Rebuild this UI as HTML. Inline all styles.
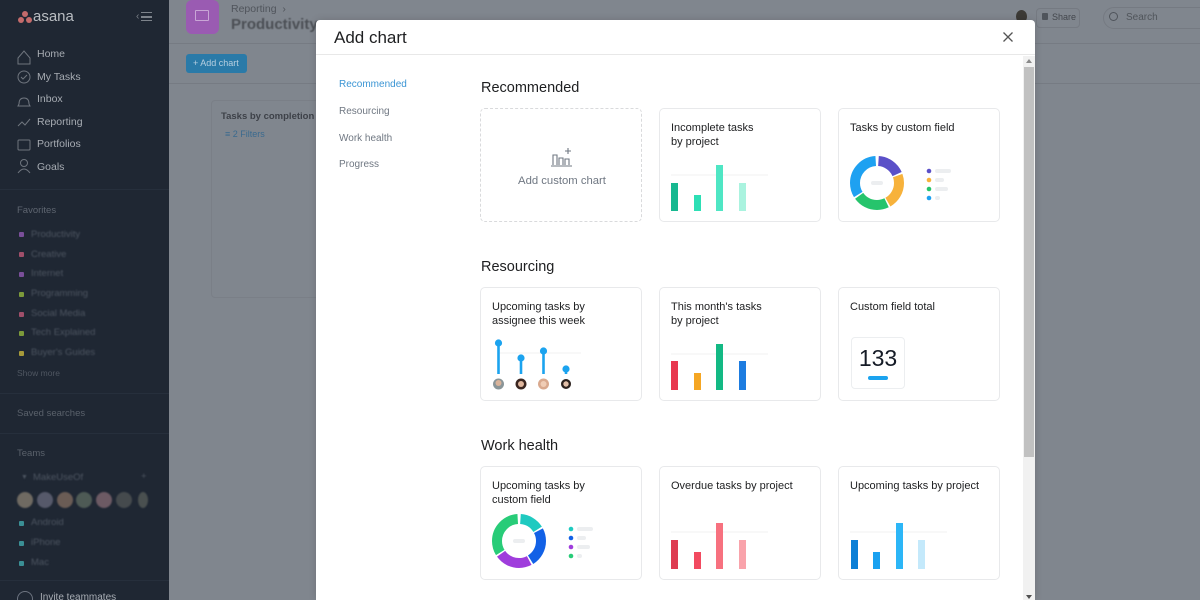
<!DOCTYPE html>
<html><head><meta charset="utf-8">
<style>
*{box-sizing:border-box;margin:0;padding:0}
html{width:1200px;height:600px;overflow:hidden}
body{width:1200px;height:600px;overflow:hidden;background:#80868e;font-family:"Liberation Sans",sans-serif;position:relative}
.a{position:absolute;white-space:nowrap}
#side{position:absolute;left:0;top:0;width:169px;height:600px;background:#1f2733}
.nav{color:#a7acb3;font-size:10.5px;line-height:12px}
.sep{position:absolute;left:0;width:169px;height:1px;background:#262f3c}
.fav{color:#4d5561;font-size:9.5px;filter:blur(0.8px);line-height:12px}
.dot{position:absolute;width:5px;height:5px;border-radius:1px}
.hl{position:absolute;left:169px;width:1031px;height:1px;background:#767b83}
#modal{position:absolute;left:316px;top:20px;width:719px;height:580px;background:#fff;border-radius:4px 4px 0 0;box-shadow:0 0 8px rgba(0,0,0,.15);overflow:hidden}
.mnav{font-size:10px;color:#6f7782;line-height:12px}
.sec{font-size:14.5px;color:#1e1f21;line-height:18px}
.card{position:absolute;width:162px;height:114px;border:1px solid #e8e9eb;border-radius:5px;background:#fff}
.ct{position:absolute;left:11px;top:12px;font-size:11px;line-height:14px;color:#1e1f21;white-space:nowrap}
.card svg{position:absolute;left:0;top:0}
</style></head><body>

<!-- Sidebar -->
<div id="side">
  <div class="a" style="left:18px;top:11px;width:14px;height:12px">
    <div style="position:absolute;left:4px;top:0;width:6px;height:6px;border-radius:50%;background:#c46b6b"></div>
    <div style="position:absolute;left:0;top:6px;width:6px;height:6px;border-radius:50%;background:#c46b6b"></div>
    <div style="position:absolute;left:8px;top:6px;width:6px;height:6px;border-radius:50%;background:#c46b6b"></div>
  </div>
  <div class="a" style="left:33px;top:8px;font-size:15px;color:#b9bdc2;line-height:18px">asana</div>
  <div class="a" style="left:136px;top:11px;font-size:10px;color:#7d838b;line-height:12px">‹</div>
  <div class="a" style="left:141px;top:12px;width:11px;height:9px;border-top:1.5px solid #7d838b;border-bottom:1.5px solid #7d838b"></div>
  <div class="a" style="left:141px;top:16px;width:11px;height:1.5px;background:#7d838b"></div>

  <svg class="a" style="left:14px;top:46px" width="20" height="130" fill="none" stroke="#6f757e" stroke-width="1">
    <path d="M4 12 L10 5 L16 12 L16 18 L4 18 Z"/>
    <circle cx="10" cy="31" r="6"/><path d="M7 31 l2 2 l4 -4"/>
    <path d="M5 58 q0 -6 5 -6 q5 0 5 6 l1 2 h-12 z"/>
    <path d="M4 80 l4 -4 l3 3 l5 -6"/>
    <rect x="4" y="94" width="12" height="10" rx="1"/>
    <circle cx="10" cy="117" r="3.5"/><path d="M4 127 q6 -8 12 0"/>
  </svg>
  <div class="a nav" style="left:37px;top:48px">Home</div>
  <div class="a nav" style="left:37px;top:71px">My Tasks</div>
  <div class="a nav" style="left:37px;top:93px">Inbox</div>
  <div class="a nav" style="left:37px;top:116px">Reporting</div>
  <div class="a nav" style="left:37px;top:138px">Portfolios</div>
  <div class="a nav" style="left:37px;top:161px">Goals</div>
  <div class="sep" style="top:189px"></div>
  <div class="a" style="left:17px;top:205px;font-size:9.5px;color:#5e6570">Favorites</div>

  <div class="dot" style="left:19px;top:232px;background:#7a4f9a"></div><div class="a fav" style="left:31px;top:229px">Productivity</div>
  <div class="dot" style="left:19px;top:252px;background:#a04f6a"></div><div class="a fav" style="left:31px;top:249px">Creative</div>
  <div class="dot" style="left:19px;top:272px;background:#7a4f9a"></div><div class="a fav" style="left:31px;top:268px">Internet</div>
  <div class="dot" style="left:19px;top:292px;background:#7c9a3a"></div><div class="a fav" style="left:31px;top:288px">Programming</div>
  <div class="dot" style="left:19px;top:312px;background:#a04f6a"></div><div class="a fav" style="left:31px;top:308px">Social Media</div>
  <div class="dot" style="left:19px;top:331px;background:#7c9a3a"></div><div class="a fav" style="left:31px;top:327px">Tech Explained</div>
  <div class="dot" style="left:19px;top:351px;background:#a69a3a"></div><div class="a fav" style="left:31px;top:347px">Buyer's Guides</div>
  <div class="a" style="left:17px;top:368px;font-size:8.5px;color:#4f5661">Show more</div>
  <div class="sep" style="top:393px"></div>
  <div class="a" style="left:17px;top:408px;font-size:9.5px;color:#5a616b">Saved searches</div>
  <div class="sep" style="top:433px"></div>
  <div class="a" style="left:17px;top:448px;font-size:9.5px;color:#5a616b">Teams</div>
  <div class="a fav" style="left:21px;top:472px;font-size:7px">▼</div>
  <div class="a fav" style="left:33px;top:472px">MakeUseOf</div>
  <div class="a fav" style="left:141px;top:471px">+</div>
  <div class="a" style="left:17px;top:492px;width:135px;height:16px;filter:blur(0.7px)">
    <div style="position:absolute;left:0;top:0;width:16px;height:16px;border-radius:50%;background:#6f6a62"></div>
    <div style="position:absolute;left:20px;top:0;width:16px;height:16px;border-radius:50%;background:#56596a"></div>
    <div style="position:absolute;left:40px;top:0;width:16px;height:16px;border-radius:50%;background:#6a5c55"></div>
    <div style="position:absolute;left:59px;top:0;width:16px;height:16px;border-radius:50%;background:#4e5a55"></div>
    <div style="position:absolute;left:79px;top:0;width:16px;height:16px;border-radius:50%;background:#6c5a64"></div>
    <div style="position:absolute;left:99px;top:0;width:16px;height:16px;border-radius:50%;background:#454a4d"></div>
    <div style="position:absolute;left:121px;top:0;width:10px;height:16px;border-radius:50%;background:#4a5050"></div>
  </div>
  <div class="dot" style="left:19px;top:521px;background:#3a8f95"></div><div class="a fav" style="left:31px;top:517px">Android</div>
  <div class="dot" style="left:19px;top:541px;background:#3a8f95"></div><div class="a fav" style="left:31px;top:537px">iPhone</div>
  <div class="dot" style="left:19px;top:561px;background:#3a8f95"></div><div class="a fav" style="left:31px;top:557px">Mac</div>
  <div class="sep" style="top:580px"></div>
  <div class="a" style="left:17px;top:591px;width:16px;height:16px;border-radius:50%;border:1.5px solid #6d7480"></div>
  <div class="a" style="left:40px;top:592px;font-size:10px;color:#a7acb3">Invite teammates</div>
</div>

<!-- Background page -->
<div class="hl" style="top:43px"></div>
<div class="hl" style="top:83px"></div>
<div class="a" style="left:186px;top:0px;width:33px;height:34px;border-radius:6px;background:#9a5bb2"></div>
<div class="a" style="left:195px;top:10px;width:14px;height:11px;border:1px solid #c9a6d6;border-radius:1px"></div>
<div class="a" style="left:231px;top:3px;font-size:10.5px;color:#50555c">Reporting &nbsp;›</div>
<div class="a" style="left:231px;top:16px;font-size:15px;font-weight:bold;color:#4c5056;filter:blur(0.6px)">Productivity</div>
<div class="a" style="left:186px;top:54px;width:61px;height:19px;border-radius:3px;background:#2a7aa8"></div>
<div class="a" style="left:193px;top:58px;font-size:9px;color:#b7cfe0">+ Add chart</div>
<div class="a" style="left:211px;top:100px;width:110px;height:198px;border:1px solid #7a7f87;border-radius:4px"></div>
<div class="a" style="left:221px;top:111px;font-size:9.5px;font-weight:bold;color:#3d4148">Tasks by completion s</div>
<div class="a" style="left:225px;top:129px;font-size:9px;color:#3a6a8f">≡ 2 Filters</div>

<div class="a" style="left:1016px;top:10px;width:11px;height:13px;border-radius:50%;background:#3c3a36"></div>
<div class="a" style="left:1036px;top:8px;width:44px;height:20px;border:1px solid #757a82;border-radius:4px"></div>
<div class="a" style="left:1042px;top:13px;width:6px;height:7px;background:#4f545b;border-radius:1px"></div>
<div class="a" style="left:1052px;top:12px;font-size:9px;color:#43474d">Share</div>
<div class="a" style="left:1103px;top:7px;width:110px;height:22px;border:1px solid #757a82;border-radius:11px"></div>
<div class="a" style="left:1109px;top:12px;width:9px;height:9px;border:1.3px solid #4f545b;border-radius:50%"></div>
<div class="a" style="left:1126px;top:12px;font-size:10px;color:#50555b">Search</div>

<!-- Modal -->
<div id="modal">
  <div class="a" style="left:18px;top:8px;font-size:17px;color:#1e1f21;line-height:20px">Add chart</div>
  <svg class="a" style="left:686px;top:11px" width="12" height="12"><path d="M1.5 1.5 L10.5 10.5 M10.5 1.5 L1.5 10.5" stroke="#555" stroke-width="1.3"/></svg>
  <div class="a" style="left:0;top:34px;width:719px;height:1px;background:#e8e8e8"></div>

  <div class="a mnav" style="left:23px;top:59px;color:#3b95d4">Recommended</div>
  <div class="a mnav" style="left:23px;top:86px">Resourcing</div>
  <div class="a mnav" style="left:23px;top:113px">Work health</div>
  <div class="a mnav" style="left:23px;top:139px">Progress</div>

  <!-- scrollbar -->
  <div class="a" style="left:707px;top:36px;width:12px;height:544px;background:#f1f1f1"></div>
  <div class="a" style="left:708px;top:47px;width:10px;height:390px;background:#c1c1c1"></div>
  <div class="a" style="left:710px;top:39px;width:0;height:0;border-left:3px solid transparent;border-right:3px solid transparent;border-bottom:4px solid #8a8a8a"></div>
  <div class="a" style="left:710px;top:575px;width:0;height:0;border-left:3px solid transparent;border-right:3px solid transparent;border-top:4px solid #505050"></div>
</div>

<!-- Sections (page coords) -->
<div class="a sec" style="left:481px;top:79px">Recommended</div>
<div class="a sec" style="left:481px;top:258px">Resourcing</div>
<div class="a sec" style="left:481px;top:437px">Work health</div>

<!-- Row 1 -->
<div class="card" style="left:480px;top:108px;border:1.2px dashed #d9dadc">
  <svg width="162" height="114">
    <g fill="none" stroke="#6f7782" stroke-width="1.1">
      <path d="M72 56 V46 h4 V56"/><path d="M78 56 V49 h4 V56"/><path d="M84 56 V50 h4 V56"/>
      <path d="M70 57 H91"/><path d="M87 39 v6 M84 42 h6"/>
    </g>
    <text x="81" y="75" text-anchor="middle" font-size="11.3" fill="#6f7782" font-family="Liberation Sans">Add custom chart</text>
  </svg>
</div>

<div class="card" style="left:659px;top:108px">
  <div class="ct">Incomplete tasks<br>by project</div>
  <svg width="162" height="114">
    <line x1="11" y1="66" x2="108" y2="66" stroke="#f0f1f2" stroke-width="1"/>
    <rect x="11" y="74" width="7" height="28" fill="#17b890"/>
    <rect x="34" y="86" width="7" height="16" fill="#2ddfb5"/>
    <rect x="56" y="56" width="7" height="46" fill="#4fe6c4"/>
    <rect x="79" y="74" width="7" height="28" fill="#aaf3df"/>
  </svg>
</div>

<div class="card" style="left:838px;top:108px">
  <div class="ct">Tasks by custom field</div>
  <svg width="162" height="114">
    <g transform="rotate(-90 38 74)" fill="none" stroke-width="10">
      <circle cx="38" cy="74" r="22" stroke="#5b50c8" stroke-dasharray="23.8 200" stroke-dashoffset="-1.5"/>
      <circle cx="38" cy="74" r="22" stroke="#f7b23b" stroke-dasharray="30.7 200" stroke-dashoffset="-26.9"/>
      <circle cx="38" cy="74" r="22" stroke="#26c46c" stroke-dasharray="30.7 200" stroke-dashoffset="-59.1"/>
      <circle cx="38" cy="74" r="22" stroke="#1ea1f1" stroke-dasharray="45.3 200" stroke-dashoffset="-91.4"/>
    </g>
    <rect x="32" y="72" width="12" height="4" rx="2" fill="#eceef0"/>
    <circle cx="90" cy="62" r="2.3" fill="#5b50c8"/><rect x="96" y="60" width="16" height="4" rx="2" fill="#eceef0"/>
    <circle cx="90" cy="71" r="2.3" fill="#f7b23b"/><rect x="96" y="69" width="9" height="4" rx="2" fill="#eceef0"/>
    <circle cx="90" cy="80" r="2.3" fill="#26c46c"/><rect x="96" y="78" width="13" height="4" rx="2" fill="#eceef0"/>
    <circle cx="90" cy="89" r="2.3" fill="#1ea1f1"/><rect x="96" y="87" width="5" height="4" rx="2" fill="#eceef0"/>
  </svg>
</div>

<!-- Row 2 -->
<div class="card" style="left:480px;top:287px">
  <div class="ct">Upcoming tasks by<br>assignee this week</div>
  <svg width="162" height="114">
    <line x1="18" y1="65" x2="100" y2="65" stroke="#f0f1f2"/>
    <g stroke="#1ba3ef" stroke-width="2.6">
      <line x1="17.5" y1="55" x2="17.5" y2="86"/>
      <line x1="40" y1="70" x2="40" y2="86"/>
      <line x1="62.5" y1="63" x2="62.5" y2="86"/>
      <line x1="85" y1="81" x2="85" y2="86"/>
    </g>
    <g fill="#1ba3ef">
      <circle cx="17.5" cy="55" r="3.6"/><circle cx="40" cy="70" r="3.6"/>
      <circle cx="62.5" cy="63" r="3.6"/><circle cx="85" cy="81" r="3.6"/>
    </g>
    <circle cx="17.5" cy="96" r="5.5" fill="#8a9598"/><circle cx="17.5" cy="95" r="3" fill="#d9b39a"/>
    <circle cx="40" cy="96" r="5.5" fill="#3a2620"/><circle cx="40" cy="96" r="3" fill="#e0b79e"/>
    <circle cx="62.5" cy="96" r="5.5" fill="#d9a98e"/><circle cx="62.5" cy="96" r="3" fill="#f0cdb6"/>
    <circle cx="85" cy="96" r="5" fill="#2c221e"/><circle cx="85" cy="96" r="2.7" fill="#e2bfa8"/>
  </svg>
</div>

<div class="card" style="left:659px;top:287px">
  <div class="ct">This month's tasks<br>by project</div>
  <svg width="162" height="114">
    <line x1="11" y1="66" x2="108" y2="66" stroke="#f0f1f2"/>
    <rect x="11" y="73" width="7" height="29" fill="#e8384f"/>
    <rect x="34" y="85" width="7" height="17" fill="#f5a623"/>
    <rect x="56" y="56" width="7" height="46" fill="#13b984"/>
    <rect x="79" y="73" width="7" height="29" fill="#1d7ce0"/>
  </svg>
</div>

<div class="card" style="left:838px;top:287px">
  <div class="ct">Custom field total</div>
  <div class="a" style="left:12px;top:49px;width:54px;height:52px;border:1px solid #eceef0;border-radius:4px;background:#fff"></div>
  <div class="a" style="left:12px;top:57px;width:54px;text-align:center;font-size:23px;line-height:26px;color:#151b26">133</div>
  <div class="a" style="left:29px;top:88px;width:20px;height:4px;border-radius:2px;background:#1ba3ef"></div>
</div>

<!-- Row 3 -->
<div class="card" style="left:480px;top:466px">
  <div class="ct">Upcoming tasks by<br>custom field</div>
  <svg width="162" height="114">
    <g transform="rotate(-90 38 74)" fill="none" stroke-width="10">
      <circle cx="38" cy="74" r="22" stroke="#1fcac0" stroke-dasharray="20.7 200" stroke-dashoffset="-1.5"/>
      <circle cx="38" cy="74" r="22" stroke="#1261e6" stroke-dasharray="33 200" stroke-dashoffset="-23.8"/>
      <circle cx="38" cy="74" r="22" stroke="#9f3ddc" stroke-dasharray="31.5 200" stroke-dashoffset="-58.4"/>
      <circle cx="38" cy="74" r="22" stroke="#28cc78" stroke-dasharray="45.3 200" stroke-dashoffset="-91.4"/>
    </g>
    <rect x="32" y="72" width="12" height="4" rx="2" fill="#eceef0"/>
    <circle cx="90" cy="62" r="2.3" fill="#1fcac0"/><rect x="96" y="60" width="16" height="4" rx="2" fill="#eceef0"/>
    <circle cx="90" cy="71" r="2.3" fill="#1261e6"/><rect x="96" y="69" width="9" height="4" rx="2" fill="#eceef0"/>
    <circle cx="90" cy="80" r="2.3" fill="#9f3ddc"/><rect x="96" y="78" width="13" height="4" rx="2" fill="#eceef0"/>
    <circle cx="90" cy="89" r="2.3" fill="#28cc78"/><rect x="96" y="87" width="5" height="4" rx="2" fill="#eceef0"/>
  </svg>
</div>

<div class="card" style="left:659px;top:466px">
  <div class="ct">Overdue tasks by project</div>
  <svg width="162" height="114">
    <line x1="11" y1="65" x2="108" y2="65" stroke="#f0f1f2"/>
    <rect x="11" y="73" width="7" height="29" fill="#de3c52"/>
    <rect x="34" y="85" width="7" height="17" fill="#f24a60"/>
    <rect x="56" y="56" width="7" height="46" fill="#f7717f"/>
    <rect x="79" y="73" width="7" height="29" fill="#f9a3ab"/>
  </svg>
</div>

<div class="card" style="left:838px;top:466px">
  <div class="ct">Upcoming tasks by project</div>
  <svg width="162" height="114">
    <line x1="11" y1="65" x2="108" y2="65" stroke="#f0f1f2"/>
    <rect x="12" y="73" width="7" height="29" fill="#0c7fd6"/>
    <rect x="34" y="85" width="7" height="17" fill="#1aa1f0"/>
    <rect x="57" y="56" width="7" height="46" fill="#2cb6f7"/>
    <rect x="79" y="73" width="7" height="29" fill="#c4e9fb"/>
  </svg>
</div>

</body></html>
